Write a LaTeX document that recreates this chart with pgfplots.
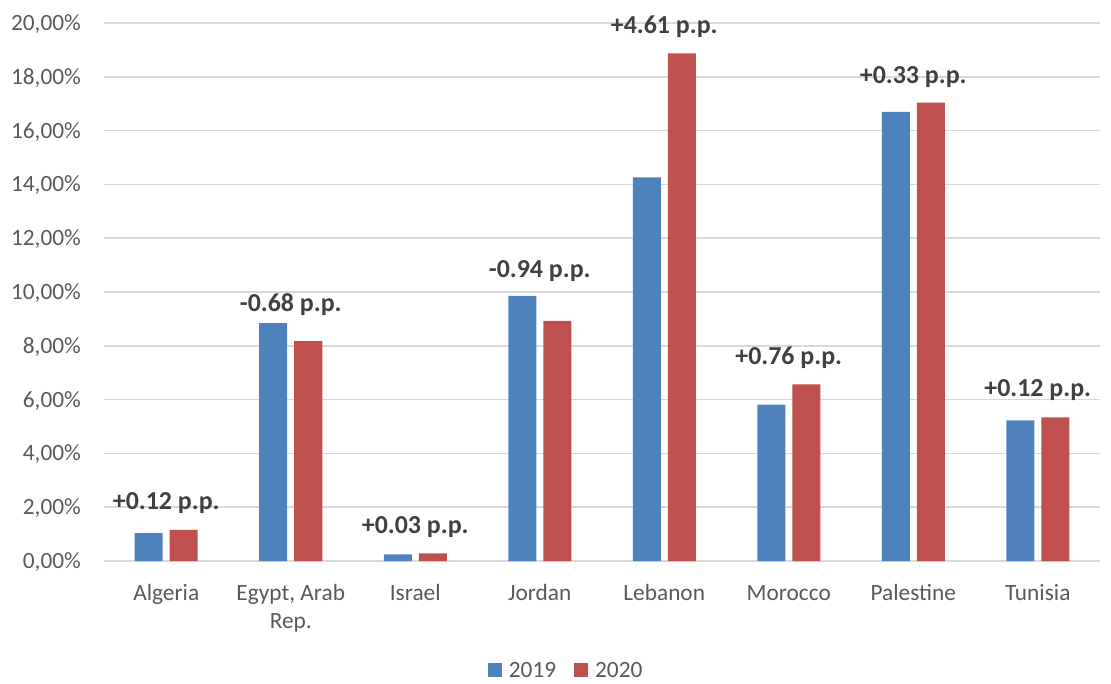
\documentclass[border=0pt]{standalone}
\usepackage{pgfplots}
\pgfplotsset{compat=1.18}
\usepackage{pgfplotstable}
\usepackage{fontspec}
\setmainfont{Carlito}

\definecolor{bblue}{HTML}{4F81BD}
\definecolor{bred}{HTML}{C0504D}
\definecolor{txtgray}{HTML}{595959}
\definecolor{anngray}{HTML}{404040}
\definecolor{gridgray}{HTML}{D9D9D9}

% x = category index, 2019 and 2020 values in percent
\pgfplotstableread{
x  y2019  y2020
0  1.04   1.16
1  8.84   8.17
2  0.25   0.28
3  9.86   8.93
4  14.26  18.87
5  5.81   6.57
6  16.70  17.04
7  5.23   5.34
}\shares

% position and text of the change labels
\pgfplotstableread[col sep=comma]{
x,ylab,txt
0,2.16,+0.12 p.p.
1,9.52,-0.68 p.p.
2,1.26,+0.03 p.p.
3,10.78,-0.94 p.p.
4,19.85,+4.61 p.p.
5,7.55,+0.76 p.p.
6,17.99,+0.33 p.p.
7,6.36,+0.12 p.p.
}\changes

\begin{document}
\begin{tikzpicture}
\useasboundingbox (-104bp,-123bp) rectangle (1007bp,561bp);
\begin{axis}[
    at={(0,0)}, anchor=south west,
    scale only axis,
    width=996bp, height=538bp,
    ybar=7bp, bar width=28bp,
    xmin=-0.5, xmax=7.5,
    ymin=0, ymax=20,
    xtick={0,...,7},
    xticklabels={\strut Algeria,{\strut Egypt, Arab\\\strut Rep.},\strut Israel,\strut Jordan,
        \strut Lebanon,\strut Morocco,\strut Palestine,\strut Tunisia},
    ytick={0,2,...,20},
    yticklabel={\pgfmathprintnumber[fixed,fixed zerofill,precision=2,use comma]{\tick}\%},
    /pgf/number format/assume math mode=true,
    major tick length=0pt,
    axis line style={draw=none},
    ymajorgrids,
    grid style={draw=gridgray, line width=1.6bp},
    yticklabel style={font=\fontsize{23.4}{28}\selectfont, text=txtgray,
        anchor=base east, inner sep=0pt, xshift=-23bp, yshift=-7.5bp},
    xticklabel style={font=\fontsize{23.4}{28}\selectfont, text=txtgray,
        align=center, anchor=north, inner sep=0pt, yshift=-19.4bp},
    legend style={at={(0.463,-0.203)}, anchor=center, draw=none,
        legend columns=2, font=\fontsize{23.4}{28}\selectfont, text=txtgray,
        nodes={inner sep=0pt, text depth=0pt},
        /tikz/every even column/.append style={column sep=18bp}},
    legend image code/.code={\fill[#1] (0bp,-7bp) rectangle (14bp,7bp);
        \path (0bp,0bp) -- (21bp,0bp);},
  ]
  \addplot[fill=bblue, draw=none, bar shift=-17.5bp] table[x=x, y=y2019] {\shares};
  \addlegendentry{2019}
  \addplot[fill=bred, draw=none, bar shift=17.5bp] table[x=x, y=y2020] {\shares};
  \addlegendentry{2020}
  \addplot[draw=none, fill=none, bar shift=0pt, forget plot,
      point meta=explicit symbolic,
      nodes near coords,
      nodes near coords style={anchor=center, inner sep=0pt, text=anngray,
          font=\fontsize{26}{30}\selectfont\bfseries}]
      table[x=x, y=ylab, meta=txt] {\changes};
\end{axis}
\end{tikzpicture}
\end{document}
